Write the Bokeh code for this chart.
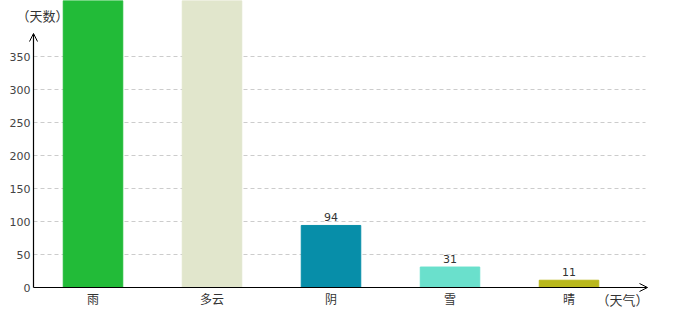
from bokeh.plotting import figure
from bokeh.models import ColumnDataSource, Range1d, Arrow, OpenHead
from bokeh.core.properties import value
from bokeh.embed import file_html
from bokeh.resources import INLINE

# ---- data ----
categories = ["雨", "多云", "阴", "雪", "晴"]
days = [520, 470, 94, 31, 11]
colors = ["#22bb38", "#e1e6cc", "#078ea9", "#6ae0cc", "#b9b81c"]
y_ticks = [0, 50, 100, 150, 200, 250, 300, 350]
y_title = "（天数）"
x_title = "（天气）"

# ---- layout constants (pixels) ----
W, H = 680, 320
X0, Y0 = 33, 287          # axis origin in pixels
SLOT = 119                # px per category
PXU = 0.66                # px per day

xs = [i + 0.5 for i in range(len(categories))]
y_max = (Y0 - 0) / PXU
shown = [i for i, v in enumerate(days) if v < y_max - 10]
src = ColumnDataSource(dict(x=xs, top=days, color=colors))
lab = ColumnDataSource(dict(x=[xs[i] for i in shown], top=[days[i] for i in shown],
                            label=[str(days[i]) for i in shown]))

CJK = "Noto Sans CJK SC"
NUM = "DejaVu Sans"

p = figure(width=W, height=H, output_backend="svg", toolbar_location=None,
           x_range=Range1d(-X0 / SLOT, (W - X0) / SLOT),
           y_range=Range1d(-(H - Y0) / PXU, Y0 / PXU),
           min_border=0, x_axis_location=None, y_axis_location=None,
           outline_line_color=None, background_fill_color="white",
           border_fill_color="white")
p.xgrid.visible = False
p.ygrid.visible = False

# dashed grid lines
gx_end = (645 - X0) / SLOT
p.segment(x0=[0] * (len(y_ticks) - 1), x1=[gx_end] * (len(y_ticks) - 1),
          y0=y_ticks[1:], y1=y_ticks[1:], line_color="#cccccc",
          line_dash="4 3", line_width=1)

p.vbar(x="x", top="top", width=0.5, bottom=0, color="color", source=src)

# value labels
p.text(x="x", y="top", text="label", source=lab, text_align="center",
       text_baseline="bottom", y_offset=-4, text_font=value(NUM),
       text_font_size="11px", text_color="#333333")

# y tick labels
p.text(x=[0] * len(y_ticks), y=y_ticks, text=[str(t) for t in y_ticks],
       x_offset=-3, text_align="right", text_baseline="middle",
       text_font=value(NUM), text_font_size="11px", text_color="#444444")

# category labels
p.text(x=xs, y=[0] * len(xs), text=categories, y_offset=2,
       text_align="center", text_baseline="top", text_font=value(CJK),
       text_font_size="12px", text_color="#333333")

# axis titles
p.text(x=[(16 - X0) / SLOT], y=[(Y0 - 15) / PXU], text=[y_title],
       text_align="left", text_baseline="middle", text_font=value(CJK),
       text_font_size="13px", text_color="#333333")
p.text(x=[(596 - X0) / SLOT], y=[(Y0 - 299) / PXU], text=[x_title],
       text_align="left", text_baseline="middle", text_font=value(CJK),
       text_font_size="13px", text_color="#333333")

# arrowed axis lines
p.add_layout(Arrow(end=OpenHead(size=8, line_width=1, line_color="black"),
                   x_start=0, y_start=0, x_end=0, y_end=(Y0 - 33) / PXU,
                   line_color="black", line_width=1.2))
p.add_layout(Arrow(end=OpenHead(size=8, line_width=1, line_color="black"),
                   x_start=0, y_start=0, x_end=(647 - X0) / SLOT, y_end=0,
                   line_color="black", line_width=1.2))

open("out.html", "w").write(file_html(p, INLINE))
